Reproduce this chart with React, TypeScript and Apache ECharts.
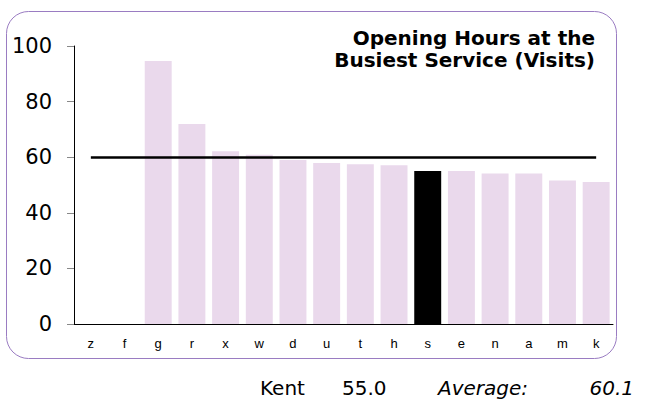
import React, { useEffect, useRef } from "react";
import * as echarts from "echarts";

const categories = ["z", "f", "g", "r", "x", "w", "d", "u", "t", "h", "s", "e", "n", "a", "m", "k"];
const values: (number | null)[] = [null, null, 94.6, 71.9, 62.1, 60.9, 59.0, 57.9, 57.5, 57.1, 55.0, 55.0, 54.1, 54.1, 51.6, 51.1];
const highlightCategory = "s";
const highlightName = "Kent";
const highlightValue = 55.0;
const averageValue = 60.1;
const yTicks = [0, 20, 40, 60, 80, 100];
const titleLines = ["Opening Hours at the", "Busiest Service (Visits)"];

const BAR = "#ead9ec";
const BORDER = "#9a7cc2";

export default function App() {
  const ref = useRef<HTMLDivElement>(null);
  useEffect(() => {
    if (!ref.current) return;
    const chart = echarts.init(ref.current, undefined, { renderer: "svg" });
    chart.setOption({
      animation: false,
      grid: { left: 74, top: 46, right: 33, bottom: 77, containLabel: false },
      xAxis: {
        type: "category",
        data: categories,
        axisLine: { show: true, lineStyle: { color: "#000", width: 1 } },
        axisTick: { show: false },
        axisLabel: { margin: 13, fontFamily: "Liberation Sans", fontSize: 13, color: "#000" },
      },
      yAxis: {
        type: "value",
        min: yTicks[0],
        max: yTicks[yTicks.length - 1],
        interval: 20,
        axisLine: { show: true, lineStyle: { color: "#000", width: 1 } },
        axisTick: { show: true, length: 7, lineStyle: { color: "#888" } },
        splitLine: { show: false },
        axisLabel: { margin: 22, fontFamily: "DejaVu Sans", fontSize: 21, color: "#000" },
      },
      series: [
        {
          type: "bar",
          barCategoryGap: "20%",
          data: values.map((v, i) => ({
            value: v,
            itemStyle: { color: categories[i] === highlightCategory ? "#000" : BAR },
          })),
          markLine: {
            silent: true,
            symbol: "none",
            label: { show: false },
            lineStyle: { color: "#000", width: 2.5, type: "solid" },
            data: [
              [
                { coord: [categories[0], averageValue] },
                { coord: [categories[categories.length - 1], averageValue] },
              ],
            ],
          },
        },
      ],
      graphic: [
        {
          type: "rect",
          shape: { x: 6.5, y: 11.5, width: 610, height: 347, r: 22 },
          style: { fill: "none", stroke: BORDER, lineWidth: 1 },
          z: -1,
        },
        {
          type: "text",
          x: 595,
          y: 27,
          style: {
            text: titleLines.join("\n"),
            font: "bold 20px 'DejaVu Sans'",
            lineHeight: 22,
            fill: "#000",
            textAlign: "right",
            textVerticalAlign: "top",
          },
        },
        {
          type: "text",
          x: 260,
          y: 388,
          style: { text: highlightName, font: "20px 'DejaVu Sans'", fill: "#000", textVerticalAlign: "middle" },
        },
        {
          type: "text",
          x: 342,
          y: 388,
          style: { text: highlightValue.toFixed(1), font: "20px 'DejaVu Sans'", fill: "#000", textVerticalAlign: "middle" },
        },
        {
          type: "text",
          x: 438,
          y: 388,
          style: { text: "Average:", font: "italic 20px 'DejaVu Sans'", fill: "#000", textVerticalAlign: "middle" },
        },
        {
          type: "text",
          x: 634,
          y: 388,
          style: { text: averageValue.toFixed(1), font: "italic 20px 'DejaVu Sans'", fill: "#000", textAlign: "right", textVerticalAlign: "middle" },
        },
      ],
    });
    return () => chart.dispose();
  }, []);
  return <div ref={ref} style={{ width: 646, height: 401, position: "absolute", left: 0, top: 0 }} />;
}
